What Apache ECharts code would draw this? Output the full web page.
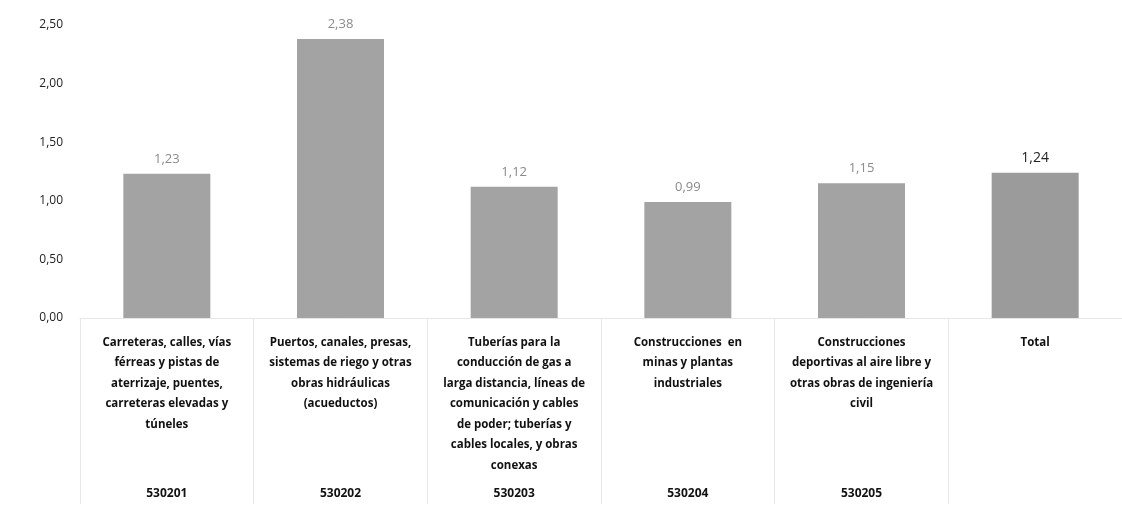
<!DOCTYPE html>
<html>
<head>
<meta charset="utf-8">
<script src="https://cdn.jsdelivr.net/npm/echarts@6/dist/echarts.min.js"></script>
<style>
  html, body { margin: 0; padding: 0; background: #fff; }
  #chart { width: 1122px; height: 516px; }
</style>
</head>
<body>
<div id="chart"></div>
<script>
// categorias (con saltos de linea como en el original)
var categories = [
  "Carreteras, calles, vías\nférreas y pistas de\naterrizaje, puentes,\ncarreteras elevadas y\ntúneles",
  "Puertos, canales, presas,\nsistemas de riego y otras\nobras hidráulicas\n(acueductos)",
  "Tuberías para la\nconducción de gas a\nlarga distancia, líneas de\ncomunicación y cables\nde poder; tuberías y\ncables locales, y obras\nconexas",
  "Construcciones  en\nminas y plantas\nindustriales",
  "Construcciones\ndeportivas al aire libre y\notras obras de ingeniería\ncivil",
  "Total"
];
var codes = ["530201", "530202", "530203", "530204", "530205", ""];
var values = [1.23, 2.38, 1.12, 0.99, 1.15, 1.24];
var yTicks = [0, 0.5, 1, 1.5, 2, 2.5];

var fmt = function (v) {
  return Number(v).toFixed(2).replace(".", ",");
};

var myChart = echarts.init(document.getElementById("chart"));
var option;

var barData = values.map(function (v, i) {
  var isTotal = categories[i] == "Total";
  return {
    value: v,
    itemStyle: { color: isTotal ? "#9b9b9b" : "#a3a3a3" },
    label: isTotal
      ? { color: "#222", fontSize: 14 }
      : { color: "#8a8a8a", fontSize: 13 }
  };
});

option = {
  animation: false,
  textStyle: { fontFamily: "Open Sans" },
  grid: {
    left: 80,
    top: 25,
    width: 1056,
    bottom: 198
  },
  xAxis: [
    {
      type: "category",
      data: categories,
      position: "bottom",
      axisLine: { lineStyle: { color: "#e6e6e6" } },
      axisTick: {
        show: true,
        interval: 0,
        length: 186,
        lineStyle: { color: "#e6e6e6" }
      },
      axisLabel: {
        interval: 0,
        margin: 14,
        color: "#111",
        fontWeight: "bold",
        fontSize: 11.5,
        lineHeight: 20.5,
        align: "center"
      }
    },
    {
      type: "category",
      data: codes,
      position: "bottom",
      axisLine: { show: false },
      axisTick: { show: false },
      axisLabel: {
        interval: 0,
        margin: 170,
        color: "#111",
        fontWeight: "bold",
        fontSize: 12
      }
    }
  ],
  yAxis: {
    type: "value",
    min: yTicks[0],
    max: yTicks[yTicks.length - 1],
    interval: 0.5,
    axisLine: { show: false },
    axisTick: { show: false },
    splitLine: { show: false },
    axisLabel: {
      margin: 17,
      color: "#222",
      fontSize: 12,
      formatter: function (v) { return fmt(v); }
    }
  },
  series: [
    {
      type: "bar",
      data: barData,
      barWidth: 87,
      label: {
        show: true,
        position: "top",
        distance: 8,
        formatter: function (p) { return fmt(p.value); }
      }
    }
  ]
};

option && myChart.setOption(option);
</script>
</body>
</html>
